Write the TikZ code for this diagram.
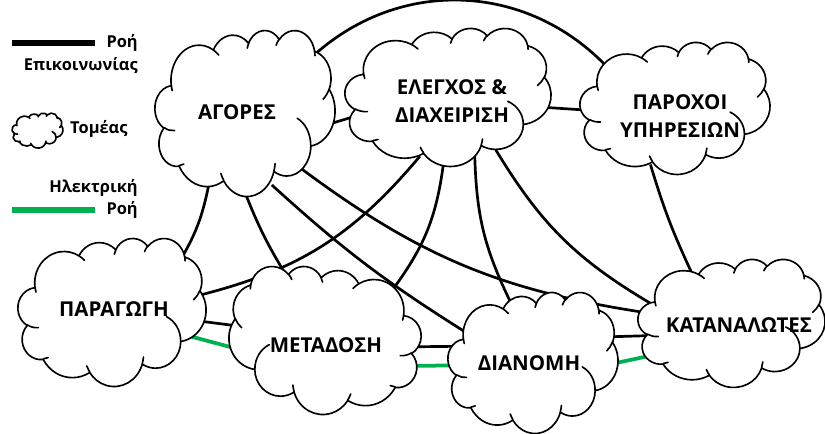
\documentclass[tikz,border=0pt]{standalone}
\usepackage{fontspec}
\setmainfont{Open Sans}
\usetikzlibrary{shapes.geometric}
\definecolor{elecgreen}{RGB}{0,176,80}

% OOXML-like cloud arcs: name, wR, hR, start angle, sweep (visual angles)
\newcommand\defooarc[5]{%
  \pgfmathsetmacro\oaT{atan2((#2)*sin(#4),(#3)*cos(#4))}%
  \pgfmathsetmacro\oaU{atan2((#2)*sin((#4)+(#5)),(#3)*cos((#4)+(#5)))}%
  \pgfmathsetmacro\oaD{mod(\oaU-\oaT+720,360)}%
  \expandafter\xdef\csname ooarc#1\endcsname{arc[start angle=\oaT, delta angle=\oaD, x radius=#2, y radius=#3]}%
}
\defooarc{A}{67.53}{91.90}{-190.487483}{123.780533}
\defooarc{B}{53.33}{72.67}{-144.102383}{89.945233}
\defooarc{C}{43.65}{59.45}{-145.807917}{99.723017}
\defooarc{D}{48.57}{65.95}{-130.986067}{117.241733}
\defooarc{E}{53.33}{72.73}{-78.708883}{109.026917}
\defooarc{F}{67.75}{92.20}{-46.26725}{130.269}
\defooarc{G}{57.85}{78.67}{0.625017}{114.033333}
\defooarc{H}{67.52}{92.15}{22.4516}{115.17255}
\defooarc{I}{77.20}{105.43}{66.242633}{75.711017}
\defooarc{J}{43.60}{59.18}{-274.942083}{146.735567}
\defooarc{K}{43.45}{59.45}{-246.8285}{152.51885}
\defooarc{a}{43.45}{59.45}{86.742}{26.4295}
\defooarc{b}{43.60}{59.18}{73.610467}{11.447467}
\defooarc{c}{67.52}{92.15}{137.62415}{14.0811}
\defooarc{d}{67.52}{92.15}{6.453267}{15.99835}
\defooarc{e}{57.85}{78.67}{-70.29235}{70.917367}
\defooarc{f}{53.33}{72.73}{30.318033}{27.7515}
\defooarc{g}{48.57}{65.95}{-13.744333}{14.8589}
\defooarc{h}{48.57}{65.95}{-149.18145}{18.195367}
\defooarc{i}{43.65}{59.45}{-163.494267}{17.68635}
\defooarc{j}{67.53}{91.90}{-66.70695}{12.31935}
\defooarc{k}{67.53}{91.90}{157.65435}{11.858167}
\xdef\cloudoutlinepath{(39,143.70) \ooarcA\space\ooarcB\space\ooarcC\space\ooarcD\space\ooarcE\space\ooarcF\space\ooarcG\space\ooarcH\space\ooarcI\space\ooarcJ\space\ooarcK\space -- cycle}
\xdef\cloudhookpath{(46.93,261.77) \ooarca\space (69.28,348.99) \ooarcb\space (164.78,390.90) \ooarcc\space (288.27,347.51) \ooarcd\space (341.29,229.54) \ooarce\space (417.98,153.54) \ooarcf\space (383.24,54.26) \ooarcg\space (290.78,39.52) \ooarch\space (221.41,47.20) \ooarci\space (140.00,51.92) \ooarcj\space (41.27,157.89) \ooarck}

% cloud with top-left corner (#2,#3), width #4, height #5 (pixels); #1 = 1 normal, -1 mirrored
\newcommand\sectorcloud[5][1]{%
  \pgfmathsetmacro\cldx{(#1)*(#4)/432*0.3}%
  \pgfmathsetmacro\cldy{(#5)/432*0.3}%
  \pgfmathsetmacro\cldsx{(#1)>0 ? (#2) : (#2)+(#4)}%
  \begin{scope}[shift={(\cldsx,#3)}, x=\cldx mm, y=-\cldy mm]
    \edef\cldcmd{\noexpand\filldraw[cloudline,fill=white] \cloudoutlinepath; \noexpand\draw[cloudline] \cloudhookpath;}%
    \cldcmd
  \end{scope}}

\begin{document}
\begin{tikzpicture}[x=0.3mm, y=-0.3mm,
  cloudline/.style={line width=1.4pt, line join=round, line cap=round},
  comm/.style={line width=2.3pt, shorten <=-7pt, shorten >=-7pt},
  elec/.style={line width=3.2pt, draw=elecgreen, shorten <=-7pt, shorten >=-7pt},
  sector/.style={ellipse, inner sep=0pt, draw=none},
  lbl/.style={font=\bfseries\fontsize{17.5}{24}\selectfont, align=center, inner sep=0pt},
  legtext/.style={font=\bfseries\fontsize{14}{16}\selectfont, inner sep=0pt},
  legline/.style={line width=4.5pt}]
\useasboundingbox (0,0) rectangle (825,433);

% sector areas (for connector anchors)
\node[sector, minimum width=180*0.3mm, minimum height=166*0.3mm] (ag) at (245,113) {};
\node[sector, minimum width=206*0.3mm, minimum height=138*0.3mm] (el) at (448,97) {};
\node[sector, minimum width=190*0.3mm, minimum height=132*0.3mm] (pa) at (675,108) {};
\node[sector, minimum width=188*0.3mm, minimum height=148*0.3mm] (pr) at (112,312) {};
\node[sector, minimum width=192*0.3mm, minimum height=148*0.3mm] (me) at (325,340) {};
\node[sector, minimum width=170*0.3mm, minimum height=141*0.3mm] (di) at (533,362.5) {};
\node[sector, minimum width=187*0.3mm, minimum height=128*0.3mm] (ka) at (731.5,323) {};

% communication flows
\draw[comm] (ag.40) to[bend left=46] (pa.148);
\draw[comm] (ag.-6) -- (el.192);
\draw[comm] (el.-6) -- (pa.181);
\draw[comm] (ag.-116) to[bend left=10] (pr.37);
\draw[comm] (ag.-89) to[bend right=5] (me.121);
\draw[comm] (ag.-67) to[bend right=5] (di.155);
\draw[comm] (ag.-44) to[bend right=14] (ka.173);
\draw[comm] (el.-117) to[bend left=18] (pr.11);
\draw[comm] (el.-94) to[bend left=15] (me.37);
\draw[comm] (el.-68) to[bend right=12] (di.111);
\draw[comm] (el.-49) to[bend right=14] (ka.165);
\draw[comm] (pa.-109) to[bend right=4] (ka.127);
\draw[comm] (pr.-6) -- (me.171);
\draw[comm] (me.-4) -- (di.169);
\draw[comm] (di.18) -- (ka.188);
% electric flows
\draw[elec] (pr.-17) -- (me.184);
\draw[elec] (me.-16) -- (di.182);
\draw[elec] (di.0) -- (ka.202);

% clouds
\sectorcloud{155}{30}{180}{166}
\sectorcloud{345}{28}{206}{138}
\sectorcloud{580}{42}{190}{132}
\sectorcloud{18}{238}{188}{148}
\sectorcloud[-1]{229}{266}{192}{148}
\sectorcloud{448}{292}{170}{141}
\sectorcloud{638}{259}{187}{128}

% labels
\node[lbl] (agT) at (237,112) {ΑΓΟΡΕΣ};
\node[lbl] (elT) at (452,101) {ΕΛΕΓΧΟΣ \&\\ΔΙΑΧΕΙΡΙΣΗ};
\node[lbl] (paT) at (680,116.5) {ΠΑΡΟΧΟΙ\\ΥΠΗΡΕΣΙΩΝ};
\node[lbl] (prT) at (114,309) {ΠΑΡΑΓΩΓΗ};
\node[lbl] (meT) at (326,345) {ΜΕΤΑΔΟΣΗ};
\node[lbl] (diT) at (529,363) {ΔΙΑΝΟΜΗ};
\node[lbl] (kaT) at (739,325) {ΚΑΤΑΝΑΛΩΤΕΣ};

% legend
\coordinate (lgA) at (12,43);
\coordinate (lgB) at (95,43);
\draw[legline] (lgA) -- (lgB);
\node[legtext, anchor=east] (lg1) at (138,43) {Ροή};
\node[legtext, anchor=east] (lg2) at (138,65) {Επικοινωνίας};
\sectorcloud{12}{113}{51}{35}
\node[legtext, anchor=west] (lg3) at (70,129) {Τομέας};
\node[legtext, anchor=east] (lg4) at (138,188) {Ηλεκτρική};
\coordinate (lgC) at (12,210);
\coordinate (lgD) at (95,210);
\draw[legline, elecgreen] (lgC) -- (lgD);
\node[legtext, anchor=east] (lg5) at (138,210) {Ροή};
\end{tikzpicture}
\end{document}
